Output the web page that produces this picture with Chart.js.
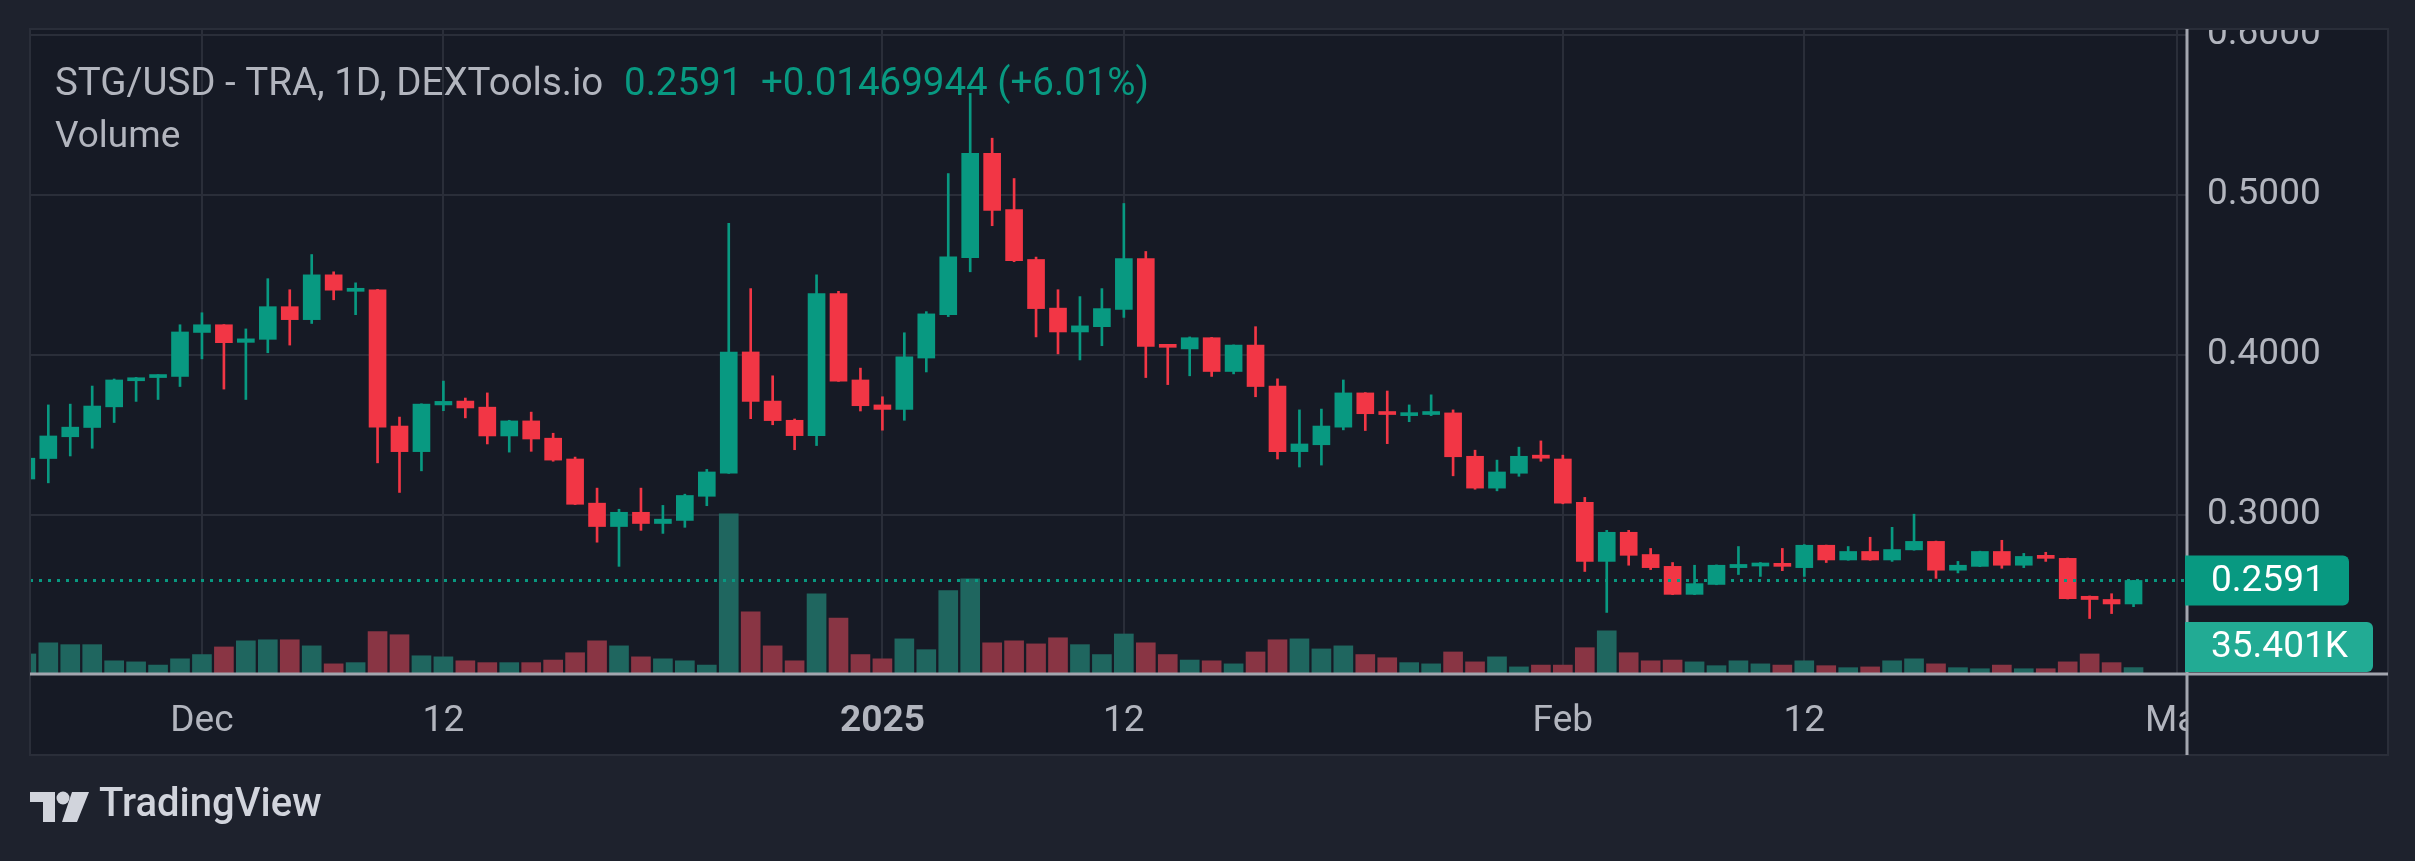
<!DOCTYPE html>
<html>
<head>
<meta charset="utf-8">
<script src="https://cdn.jsdelivr.net/npm/chart.js@4.4.1/dist/chart.umd.min.js"></script>
<style>
  html, body { margin: 0; padding: 0; background: #1e222d; }
  canvas { display: block; }
</style>
</head>
<body>
<canvas id="tvChart" width="2415" height="861"></canvas>
<script>
// Daily candles, 23 Nov 2024 -> 27 Feb 2025 (index 0 = 23 Nov)
const openP = [0.3225, 0.3353, 0.3489, 0.3547, 0.3676, 0.3839, 0.3859, 0.3866, 0.4141, 0.4189,
  0.4079, 0.4098, 0.4302, 0.4221, 0.4501, 0.4398, 0.4408, 0.3556, 0.3396, 0.3688,
  0.3712, 0.3674, 0.3494, 0.3588, 0.3480, 0.3350, 0.3074, 0.2928, 0.3017, 0.2947,
  0.2966, 0.3117, 0.3261, 0.4019, 0.3712, 0.3592, 0.3496, 0.4384, 0.3844, 0.3688,
  0.3660, 0.3981, 0.4252, 0.4609, 0.5261, 0.4909, 0.4597, 0.4293, 0.4144, 0.4177,
  0.4285, 0.4602, 0.4062, 0.4038, 0.4108, 0.3897, 0.4062, 0.3806, 0.3396, 0.3439,
  0.3549, 0.3763, 0.3643, 0.3621, 0.3628, 0.3638, 0.3367, 0.3168, 0.3261, 0.3374,
  0.3350, 0.3079, 0.2710, 0.2892, 0.2753, 0.2679, 0.2504, 0.2566, 0.2671, 0.2681,
  0.2698, 0.2671, 0.2811, 0.2719, 0.2772, 0.2719, 0.2782, 0.2835, 0.2655, 0.2679,
  0.2772, 0.2686, 0.2748, 0.2729, 0.2492, 0.2472, 0.2444];
const highP = [0.3400, 0.3688, 0.3693, 0.3806, 0.3850, 0.3860, 0.3877, 0.4189, 0.4264, 0.4190,
  0.4163, 0.4477, 0.4408, 0.4628, 0.4520, 0.4451, 0.4410, 0.3612, 0.3695, 0.3837,
  0.3731, 0.3763, 0.3592, 0.3643, 0.3511, 0.3362, 0.3168, 0.3036, 0.3168, 0.3060,
  0.3130, 0.3285, 0.4823, 0.4415, 0.3870, 0.3600, 0.4501, 0.4398, 0.3918, 0.3739,
  0.4139, 0.4271, 0.5134, 0.5635, 0.5355, 0.5103, 0.4612, 0.4408, 0.4365, 0.4415,
  0.4947, 0.4647, 0.4063, 0.4113, 0.4110, 0.4063, 0.4177, 0.3851, 0.3657, 0.3662,
  0.3844, 0.3765, 0.3775, 0.3688, 0.3751, 0.3657, 0.3405, 0.3343, 0.3424, 0.3463,
  0.3374, 0.3110, 0.2904, 0.2904, 0.2791, 0.2703, 0.2686, 0.2688, 0.2803, 0.2703,
  0.2791, 0.2815, 0.2812, 0.2803, 0.2861, 0.2923, 0.3005, 0.2837, 0.2710, 0.2774,
  0.2842, 0.2760, 0.2767, 0.2731, 0.2494, 0.2508, 0.2592];
const lowP = [0.3180, 0.3201, 0.3369, 0.3417, 0.3578, 0.3710, 0.3722, 0.3803, 0.3976, 0.3787,
  0.3722, 0.4014, 0.4062, 0.4197, 0.4345, 0.4252, 0.3326, 0.3141, 0.3276, 0.3652,
  0.3607, 0.3444, 0.3393, 0.3398, 0.3336, 0.3065, 0.2830, 0.2679, 0.2904, 0.2885,
  0.2923, 0.3058, 0.3260, 0.3602, 0.3564, 0.3408, 0.3434, 0.3835, 0.3650, 0.3530,
  0.3592, 0.3894, 0.4240, 0.4520, 0.4808, 0.4583, 0.4113, 0.4007, 0.3969, 0.4058,
  0.4235, 0.3859, 0.3815, 0.3870, 0.3866, 0.3882, 0.3739, 0.3350, 0.3300, 0.3312,
  0.3532, 0.3528, 0.3446, 0.3583, 0.3621, 0.3245, 0.3161, 0.3151, 0.3242, 0.3336,
  0.3070, 0.2647, 0.2391, 0.2686, 0.2659, 0.2502, 0.2502, 0.2564, 0.2628, 0.2616,
  0.2652, 0.2616, 0.2703, 0.2717, 0.2717, 0.2710, 0.2780, 0.2604, 0.2638, 0.2677,
  0.2667, 0.2671, 0.2710, 0.2475, 0.2353, 0.2384, 0.2427];
const closeP = [0.3355, 0.3494, 0.3549, 0.3681, 0.3844, 0.3856, 0.3875, 0.4144, 0.4189, 0.4077,
  0.4101, 0.4302, 0.4221, 0.4501, 0.4405, 0.4417, 0.3549, 0.3396, 0.3693, 0.3710,
  0.3669, 0.3494, 0.3588, 0.3475, 0.3343, 0.3067, 0.2928, 0.3017, 0.2947, 0.2974,
  0.3122, 0.3269, 0.4019, 0.3710, 0.3590, 0.3496, 0.4384, 0.3837, 0.3683, 0.3660,
  0.3988, 0.4257, 0.4614, 0.5261, 0.4904, 0.4590, 0.4290, 0.4144, 0.4182, 0.4290,
  0.4602, 0.4053, 0.4048, 0.4108, 0.3897, 0.4062, 0.3803, 0.3396, 0.3444, 0.3556,
  0.3763, 0.3633, 0.3628, 0.3638, 0.3643, 0.3364, 0.3168, 0.3269, 0.3367, 0.3355,
  0.3074, 0.2710, 0.2892, 0.2748, 0.2671, 0.2504, 0.2571, 0.2686, 0.2691, 0.2700,
  0.2679, 0.2811, 0.2719, 0.2772, 0.2719, 0.2784, 0.2835, 0.2655, 0.2686, 0.2772,
  0.2686, 0.2741, 0.2729, 0.2477, 0.2472, 0.2444, 0.2591];
// volume in thousands
const volumeK = [125, 198, 186, 186, 80, 73, 52, 93, 121, 171, 211, 218, 218, 178, 60, 68, 271,
  251, 113, 106, 80, 68, 68, 68, 85, 133, 211, 178, 106, 93, 80, 52, 1044, 401,
  178, 80, 520, 361, 121, 93, 224, 153, 540, 617, 198, 211, 191, 231, 186, 121,
  256, 198, 121, 85, 80, 60, 138, 218, 224, 158, 178, 121, 100, 68, 60, 138,
  73, 106, 40, 52, 52, 166, 276, 133, 80, 85, 73, 48, 80, 60, 52, 80, 48,
  35, 40, 80, 93, 60, 35, 28, 52, 28, 28, 73, 125, 68, 35.401];

// time axis: day index -> label
const tickIndex = [8, 19, 39, 50, 70, 81, 98];
const tickText = ['Dec', '12', '2025', '12', 'Feb', '12', 'Mar'];
const priceTicks = [0.3, 0.4, 0.5, 0.6];

const titleText = 'STG/USD - TRA, 1D, DEXTools.io';
const lastPrice = 0.2591;
const changeText = '+0.01469944 (+6.01%)';
const lastVolumeText = '35.401K';

const UP = '#089981';
const DOWN = '#f23645';
const VOL_UP = '#1f665f';
const VOL_DOWN = '#893544';
const TEXT = '#b2b5be';
const GRID = '#2a2e39';
const FONT = 'Roboto, "Noto Sans", sans-serif';

const isUp = i => closeP[i] >= openP[i];

// Dessin du cadre, des étiquettes de prix et du logo
const tvPlugin = {
    id: 'tvLook',
    beforeDraw(chart) {
        const c = chart.ctx;
        const a = chart.chartArea;
        const right = chart.scales.y.right;
        const bottom = chart.scales.x.bottom;
        c.save();
        c.fillStyle = '#1e222d';
        c.fillRect(0, 0, chart.width, chart.height);
        c.fillStyle = '#161a25';
        c.fillRect(a.left, a.top, right - a.left, bottom - a.top);
        c.restore();
    },
    afterDatasetsDraw(chart) {
        const c = chart.ctx;
        const a = chart.chartArea;
        const y = Math.round(chart.scales.y.getPixelForValue(lastPrice)) + 0.5;
        c.save();
        c.strokeStyle = UP;
        c.lineWidth = 3;
        c.setLineDash([3, 6]);
        c.beginPath();
        c.moveTo(a.left, y);
        c.lineTo(a.right, y);
        c.stroke();
        c.restore();
    },
    afterDraw(chart) {
        const c = chart.ctx;
        const a = chart.chartArea;
        const ys = chart.scales.y;
        const xs = chart.scales.x;
        c.save();

        // hide the part of the time labels under the price scale
        c.fillStyle = '#161a25';
        c.fillRect(a.right + 1, xs.top + 3, ys.right - a.right - 2, xs.bottom - xs.top - 4);
        // clip the top price label at the panel edge
        c.fillStyle = '#1e222d';
        c.fillRect(0, 0, chart.width, a.top);

        // panel border
        c.strokeStyle = GRID;
        c.lineWidth = 2;
        c.strokeRect(a.left, a.top, ys.right - a.left, xs.bottom - a.top);

        // price scale separator and time scale line
        c.strokeStyle = '#a3a6af';
        c.lineWidth = 3;
        c.beginPath();
        c.moveTo(a.right + 1, a.top);
        c.lineTo(a.right + 1, xs.bottom);
        c.moveTo(a.left, a.bottom + 1);
        c.lineTo(ys.right, a.bottom + 1);
        c.stroke();

        // price tags
        const tag = (y, h, w, color, text) => {
            c.fillStyle = color;
            c.beginPath();
            c.roundRect(a.right - 1, y - h / 2, w, h, [0, 6, 6, 0]);
            c.fill();
            c.fillStyle = '#ffffff';
            c.font = '37px ' + FONT;
            c.textAlign = 'left';
            c.textBaseline = 'middle';
            c.fillText(text, a.right + 25, y + 1);
        };
        const yp = ys.getPixelForValue(lastPrice);
        tag(yp, 50, 164, UP, lastPrice.toFixed(4));
        tag(a.bottom - 26, 50, 188, '#22ab94', lastVolumeText);

        // legend texts
        c.font = '38.5px ' + FONT;
        c.textAlign = 'left';
        c.textBaseline = 'middle';
        c.fillStyle = TEXT;
        c.fillText(titleText, 55, 85);
        c.font = '37px ' + FONT;
        c.fillText('Volume', 55, 138);
        c.font = '38.5px ' + FONT;
        c.fillStyle = UP;
        c.fillText(lastPrice.toFixed(4), 624, 85);
        c.fillText(changeText, 761, 85);

        // TradingView logo
        c.fillStyle = '#d1d4dc';
        c.fillRect(30, 792, 25, 10);
        c.fillRect(43, 792, 12, 30);
        c.beginPath();
        c.arc(63, 798, 6.5, 0, Math.PI * 2);
        c.fill();
        c.beginPath();
        c.moveTo(72, 792);
        c.lineTo(89, 792);
        c.lineTo(77, 822);
        c.lineTo(62, 822);
        c.closePath();
        c.fill();
        c.font = '500 40px ' + FONT;
        c.fillText('TradingView', 99, 806);

        c.restore();
    }
};

const ctx = document.getElementById('tvChart').getContext('2d');
new Chart(ctx, {
    type: 'bar',
    data: {
        datasets: [
            {
                label: 'Body',
                data: openP.map((o, i) => ({ x: i, y: [o, closeP[i]] })),
                backgroundColor: openP.map((o, i) => isUp(i) ? UP : DOWN),
                barThickness: 17,
                minBarLength: 3,
                grouped: false,
                yAxisID: 'y',
                order: 1
            },
            {
                label: 'Wick',
                data: lowP.map((l, i) => ({ x: i, y: [l, highP[i]] })),
                backgroundColor: lowP.map((l, i) => isUp(i) ? UP : DOWN),
                barThickness: 2,
                grouped: false,
                yAxisID: 'y',
                order: 2
            },
            {
                label: 'Volume',
                data: volumeK.map((v, i) => ({ x: i, y: v })),
                backgroundColor: volumeK.map((v, i) => isUp(i) ? VOL_UP : VOL_DOWN),
                barThickness: 19,
                grouped: false,
                yAxisID: 'yv',
                order: 3
            }
        ]
    },
    options: {
        responsive: false,
        animation: false,
        layout: { padding: { left: 30, top: 29, right: 27, bottom: 106 } },
        plugins: {
            legend: { display: false },
            tooltip: { enabled: false }
        },
        scales: {
            x: {
                type: 'linear',
                min: 0.166,
                max: 98.39,
                offset: false,
                grid: { color: GRID, lineWidth: 2, drawTicks: false, offset: false },
                border: { display: false },
                afterBuildTicks: scale => { scale.ticks = tickIndex.map(v => ({ value: v })); },
                afterFit: scale => {
                    scale.height = 82;
                    scale.paddingLeft = 0;
                    scale.paddingRight = 0;
                },
                ticks: {
                    autoSkip: false,
                    maxRotation: 0,
                    padding: 27,
                    color: TEXT,
                    font: ctx => ({ family: FONT, size: 37, weight: ctx.tick && ctx.tick.value === 39 ? 'bold' : 'normal' }),
                    callback: v => tickText[tickIndex.indexOf(v)]
                }
            },
            y: {
                type: 'linear',
                position: 'right',
                min: 0.20125,
                max: 0.60375,
                grid: { color: GRID, lineWidth: 2, drawTicks: false },
                border: { display: false },
                afterBuildTicks: scale => { scale.ticks = priceTicks.map(v => ({ value: v })); },
                afterFit: scale => {
                    scale.width = 202;
                    scale.paddingTop = 0;
                    scale.paddingBottom = 0;
                },
                ticks: {
                    padding: 21,
                    color: TEXT,
                    font: { family: FONT, size: 37 },
                    callback: v => v.toFixed(4)
                }
            },
            yv: {
                type: 'linear',
                display: false,
                min: 0,
                max: 4225
            }
        }
    },
    plugins: [tvPlugin]
});
</script>
</body>
</html>
